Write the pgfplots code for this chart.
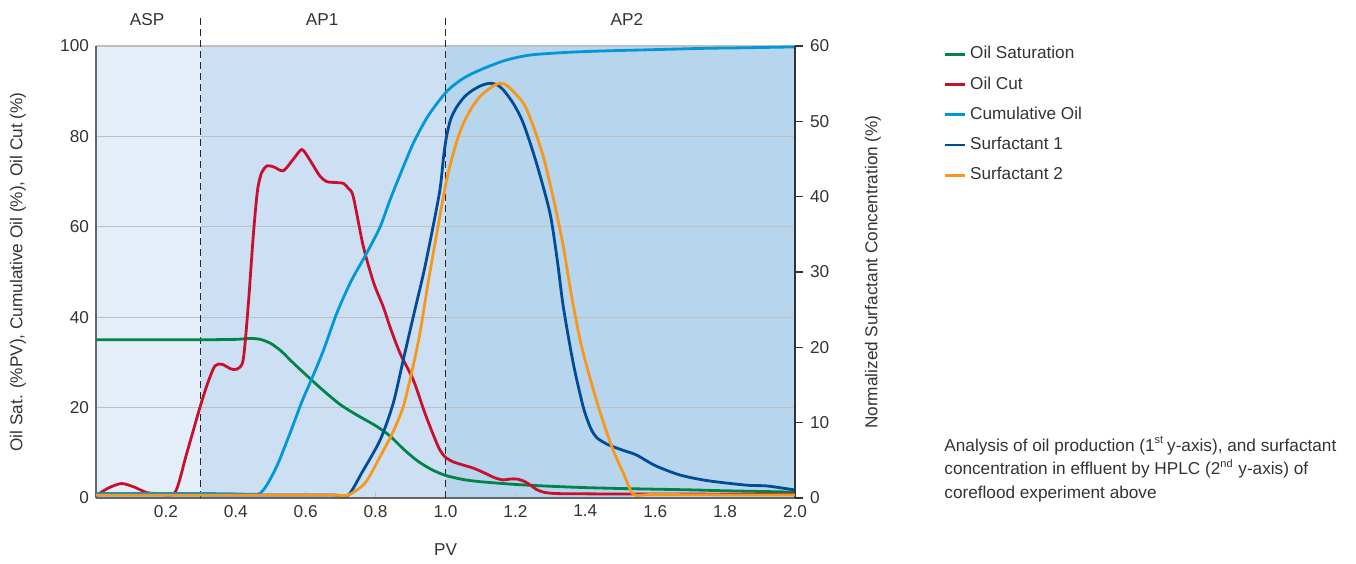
\documentclass[border=0pt]{standalone}
\usepackage{pgfplots}
\pgfplotsset{compat=1.18}
\usepackage{fontspec}
\setmainfont{Liberation Sans}

\definecolor{aspbg}{RGB}{228,238,248}
\definecolor{ap1bg}{RGB}{205,224,243}
\definecolor{ap2bg}{RGB}{183,213,237}
\definecolor{oilsat}{RGB}{0,132,72}
\definecolor{oilcut}{RGB}{200,16,46}
\definecolor{cumoil}{RGB}{0,152,216}
\definecolor{surf1}{RGB}{0,76,151}
\definecolor{surf2}{RGB}{247,152,29}
\definecolor{txt}{RGB}{51,51,51}

\newcommand{\chartfont}{\fontsize{8.6}{10.5}\selectfont}

\pgfplotsset{
  base/.style={
    scale only axis, width=349.5pt, height=226pt,
    at={(48pt,32.5pt)}, anchor=south west,
    xmin=0, xmax=2,
    /pgf/number format/assume math mode=true,
    tick label style={font=\chartfont, text=txt},
    every axis plot/.append style={line width=1.4pt, smooth, tension=0.45},
  },
}

\begin{document}
\begin{tikzpicture}

\begin{axis}[base,
    set layers=standard,
    clip=false,
    ymin=0, ymax=100,
    ytick={0,20,40,60,80,100},
    xtick={0.2,0.4,0.6,0.8,1.0,1.2,1.4,1.6,1.8,2.0},
    xticklabel style={/pgf/number format/.cd, fixed, fixed zerofill, precision=1},
    axis y line*=left, axis x line*=bottom,
    axis line style={draw=black!60, line width=1pt},
    ymajorgrids, grid style={draw=black!25, line width=0.6pt},
    ytick style={draw=none},
    xtick style={draw=black!25, line width=0.5pt},
    tick align=inside, major tick length=3pt,
  ]
  % phase backgrounds
  \addplot[on layer=axis background, fill=aspbg, draw=none, sharp plot, forget plot]
    coordinates {(0,100) (0.3,100)} \closedcycle;
  \addplot[on layer=axis background, fill=ap1bg, draw=none, sharp plot, forget plot]
    coordinates {(0.3,100) (1.0,100)} \closedcycle;
  \addplot[on layer=axis background, fill=ap2bg, draw=none, sharp plot, forget plot]
    coordinates {(1.0,100) (2.0,100)} \closedcycle;
  % phase boundaries
  \addplot[black!85, line width=0.6pt, dash pattern=on 3.5pt off 2pt, sharp plot, forget plot]
    coordinates {(0.3,0) (0.3,107)};
  \addplot[black!85, line width=0.6pt, dash pattern=on 3.5pt off 2pt, sharp plot, forget plot]
    coordinates {(1.0,0) (1.0,107)};
  \node[font=\chartfont, text=txt] at (axis cs:0.146,105.8) {ASP};
  \node[font=\chartfont, text=txt] at (axis cs:0.647,105.8) {AP1};
  \node[font=\chartfont, text=txt] at (axis cs:1.519,105.8) {AP2};

  % Oil Saturation
  \addplot[oilsat] coordinates {
    (0,35) (0.1,35) (0.2,35) (0.3,35) (0.4,35.1) (0.44,35.3) (0.47,35.1)
    (0.5,34.2) (0.53,32.5) (0.56,30.2) (0.6,27.3) (0.65,23.8) (0.7,20.6)
    (0.75,18.2) (0.8,16.0) (0.84,13.8) (0.88,10.8) (0.92,8.2) (0.96,6.3)
    (1.0,5.0) (1.05,4.1) (1.1,3.6) (1.2,3.0) (1.3,2.6) (1.4,2.3) (1.5,2.1)
    (1.6,1.95) (1.7,1.8) (1.8,1.6) (1.9,1.45) (2.0,1.3)
  };
  % Oil Cut
  \addplot[oilcut] coordinates {
    (0,0.5) (0.035,2.2) (0.073,3.2) (0.11,2.4) (0.145,1.2) (0.18,1.0) (0.226,1.2)
    (0.26,10) (0.298,20.2) (0.32,25.5) (0.34,29.2) (0.36,29.6) (0.385,28.6)
    (0.403,28.5) (0.421,30.5) (0.435,42) (0.45,58) (0.462,68) (0.474,72)
    (0.49,73.5) (0.51,73.2) (0.536,72.4) (0.565,75) (0.589,77.1) (0.61,75)
    (0.64,71.3) (0.66,70) (0.685,69.8) (0.708,69.6) (0.722,68.5) (0.736,66.7)
    (0.765,55.6) (0.795,47.5) (0.822,42.3) (0.841,37.9) (0.87,32) (0.908,26.1)
    (0.94,19) (0.965,14) (0.984,10.6) (1.0,9.0) (1.022,8.0) (1.05,7.3)
    (1.08,6.6) (1.11,5.6) (1.14,4.5) (1.165,4.0) (1.185,4.2) (1.204,4.2)
    (1.225,3.7) (1.242,2.9) (1.26,1.9) (1.28,1.3) (1.31,1.0) (1.35,0.95)
    (1.45,0.9) (1.55,0.9) (1.65,0.9) (1.75,0.85) (1.85,0.85) (1.95,0.8) (2.0,0.8)
  };
  % Cumulative Oil
  \addplot[cumoil] coordinates {
    (0,1.0) (0.1,1.0) (0.2,1.0) (0.3,1.0) (0.4,0.9) (0.45,0.8) (0.469,1.0)
    (0.49,3) (0.52,7.5) (0.555,14.3) (0.59,21.5) (0.612,25.4) (0.65,32.5)
    (0.689,40.9) (0.73,48) (0.774,54.1) (0.813,60.0) (0.841,65.9) (0.87,71.5)
    (0.908,78.5) (0.95,84.5) (1.003,89.9) (1.05,92.8) (1.099,94.7) (1.17,96.8)
    (1.242,98.0) (1.35,98.6) (1.45,98.9) (1.55,99.1) (1.65,99.3) (1.75,99.5)
    (1.85,99.6) (2.0,99.8)
  };
\end{axis}

\begin{axis}[base,
    ymin=0, ymax=60,
    ytick={0,10,20,30,40,50,60},
    axis y line*=right, axis x line=none,
    axis line style={draw=black!80, line width=1pt},
    ytick style={draw=black!80, line width=0.8pt},
    tick align=outside, major tick length=4pt,
    legend style={at={(1.2031,1.0176)}, anchor=north west, draw=none, fill=none,
      font=\chartfont, text=txt, row sep=3.4pt},
    legend cell align=left,
    legend image code/.code={\draw[#1,line width=1.4pt] (0pt,0pt) -- (10pt,0pt);},
  ]
  \addlegendimage{oilsat}
  \addlegendimage{oilcut}
  \addlegendimage{cumoil}
  % Surfactant 1
  \addplot[surf1] coordinates {
    (0,0.4) (0.1,0.4) (0.2,0.4) (0.3,0.4) (0.4,0.4) (0.5,0.4) (0.6,0.4)
    (0.68,0.4) (0.722,0.4) (0.76,3.3) (0.813,7.7) (0.85,12.5) (0.879,18.3)
    (0.91,24.5) (0.937,29.8) (0.96,35) (0.984,40.9) (0.995,45.5) (1.003,48.0)
    (1.015,50.3) (1.032,51.9) (1.055,53.3) (1.08,54.2) (1.105,54.8) (1.127,55.05)
    (1.145,54.9) (1.165,54.2) (1.195,52.3) (1.223,49.7) (1.26,44.5) (1.299,37.8)
    (1.32,31.5) (1.337,25.4) (1.365,18.0) (1.394,12.1) (1.415,9.3) (1.433,8.0)
    (1.46,7.2) (1.48,6.8) (1.51,6.3) (1.547,5.7) (1.6,4.3) (1.671,3.05)
    (1.75,2.3) (1.862,1.7) (1.92,1.6) (2.0,1.06)
  };
  % Surfactant 2
  \addplot[surf2] coordinates {
    (0,0.4) (0.1,0.4) (0.2,0.4) (0.3,0.4) (0.4,0.4) (0.5,0.4) (0.6,0.4)
    (0.68,0.4) (0.722,0.4) (0.77,2.0) (0.813,5.5) (0.85,8.8) (0.879,12.1)
    (0.905,17) (0.927,21.9) (0.95,28.5) (0.975,35.1) (1.003,42.2) (1.03,47)
    (1.051,49.7) (1.075,51.8) (1.099,53.3) (1.13,54.5) (1.156,55.05) (1.18,54.6)
    (1.223,52.4) (1.25,49.5) (1.28,45.3) (1.31,39.5) (1.337,33.4) (1.36,27)
    (1.385,21) (1.41,16.5) (1.433,12.8) (1.452,10) (1.48,6.3) (1.51,3.2)
    (1.537,0.5) (1.58,0.45) (1.65,0.45) (1.75,0.42) (1.85,0.4) (1.95,0.4) (2.0,0.4)
  };
  \legend{Oil Saturation, Oil Cut, Cumulative Oil, Surfactant 1, Surfactant 2}
\end{axis}

% axis titles
\node[font=\chartfont, text=txt, rotate=90] at (9pt,145.5pt)
  {Oil Sat. (\%PV), Cumulative Oil (\%), Oil Cut (\%)};
\node[font=\chartfont, text=txt, rotate=90] at (436.5pt,145.5pt)
  {Normalized Surfactant Concentration (\%)};
\node[font=\chartfont, text=txt] at (222.75pt,6.5pt) {PV};

% caption
\node[font=\fontsize{8.6}{11.75}\selectfont, text=txt, align=left, anchor=north west,
      inner sep=0pt] at (472pt,63.5pt)
  {Analysis of oil production (1\textsuperscript{\fontsize{5.5}{6}\selectfont st}\,y-axis), and surfactant\\
   concentration in effluent by HPLC (2\textsuperscript{\fontsize{5.5}{6}\selectfont nd} y-axis) of\\
   coreflood experiment above};

\pgfresetboundingbox
\path[use as bounding box] (0,0) rectangle (678pt,281.5pt);
\end{tikzpicture}
\end{document}
